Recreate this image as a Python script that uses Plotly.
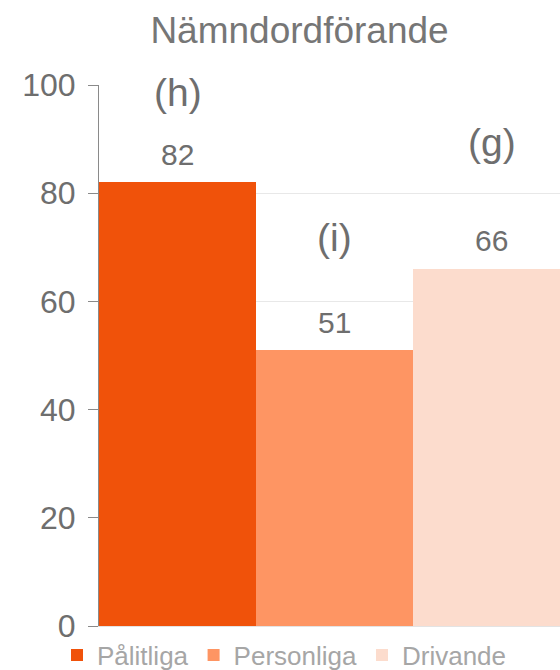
import plotly.graph_objects as go

# Data
series = ["Pålitliga", "Personliga", "Drivande"]
values = [82, 51, 66]
letters = ["(h)", "(i)", "(g)"]
colors = ["#F0520A", "#FE9563", "#FCDCCD"]

title = "Nämndordförande"
y_ticks = [0, 20, 40, 60, 80, 100]

# layout constants (placement of letter labels in axis units)
letter_y = [98.7, 71.9, 89.3]

FONT = "Liberation Sans, Arial, sans-serif"

fig = go.Figure()
for name, val, col in zip(series, values, colors):
    fig.add_trace(go.Bar(
        x=[name], y=[val], name=name,
        marker=dict(color=col, line=dict(width=0)),
        hoverinfo="skip",
    ))

annotations = []
for name, val in zip(series, values):
    annotations.append(dict(
        x=name, y=val, xref="x", yref="y", text=str(val), showarrow=False,
        yanchor="middle", yshift=28,
        font=dict(family=FONT, size=30, color="#6E6E6E"),
    ))
for name, lab, ly in zip(series, letters, letter_y):
    annotations.append(dict(
        x=name, y=ly, xref="x", yref="y", text=lab, showarrow=False,
        yanchor="middle",
        font=dict(family=FONT, size=39, color="#6E6E6E"),
    ))

fig.update_layout(
    width=560, height=670,
    margin=dict(l=99, r=0, t=85, b=44, autoexpand=False),
    paper_bgcolor="white", plot_bgcolor="white",
    barmode="overlay", bargap=0,
    title=dict(text=title, x=299.5 / 560, xref="container", xanchor="center",
               y=1 - 30 / 670, yref="container", yanchor="middle",
               font=dict(family=FONT, size=37, color="#767676")),
    showlegend=True,
    legend=dict(orientation="h", xref="container", x=57 / 560, xanchor="left",
                yref="container", y=1 - 655 / 670, yanchor="middle",
                font=dict(family=FONT, size=26, color="#A6A6A6"),
                itemclick=False, bgcolor="rgba(0,0,0,0)", tracegroupgap=0),
    annotations=annotations,
    xaxis=dict(range=[-0.5, -0.5 + 461 / 157], showticklabels=False,
               showgrid=False, zeroline=False, showline=True,
               linecolor="#E3E3E3", linewidth=1, ticks=""),
    yaxis=dict(range=[0, 100], tickvals=y_ticks, showgrid=True,
               gridcolor="#E8E8E8", gridwidth=1, zeroline=False,
               showline=True, linecolor="#8A8A8A", linewidth=1,
               ticks="outside", ticklen=10, tickcolor="#8A8A8A",
               tickfont=dict(family=FONT, size=32, color="#6E6E6E"),
               ticklabelstandoff=6),
)

fig.write_html("out.html",
               config={"displayModeBar": False},
               post_script="document.body.style.margin='0';document.body.style.overflow='hidden';")
